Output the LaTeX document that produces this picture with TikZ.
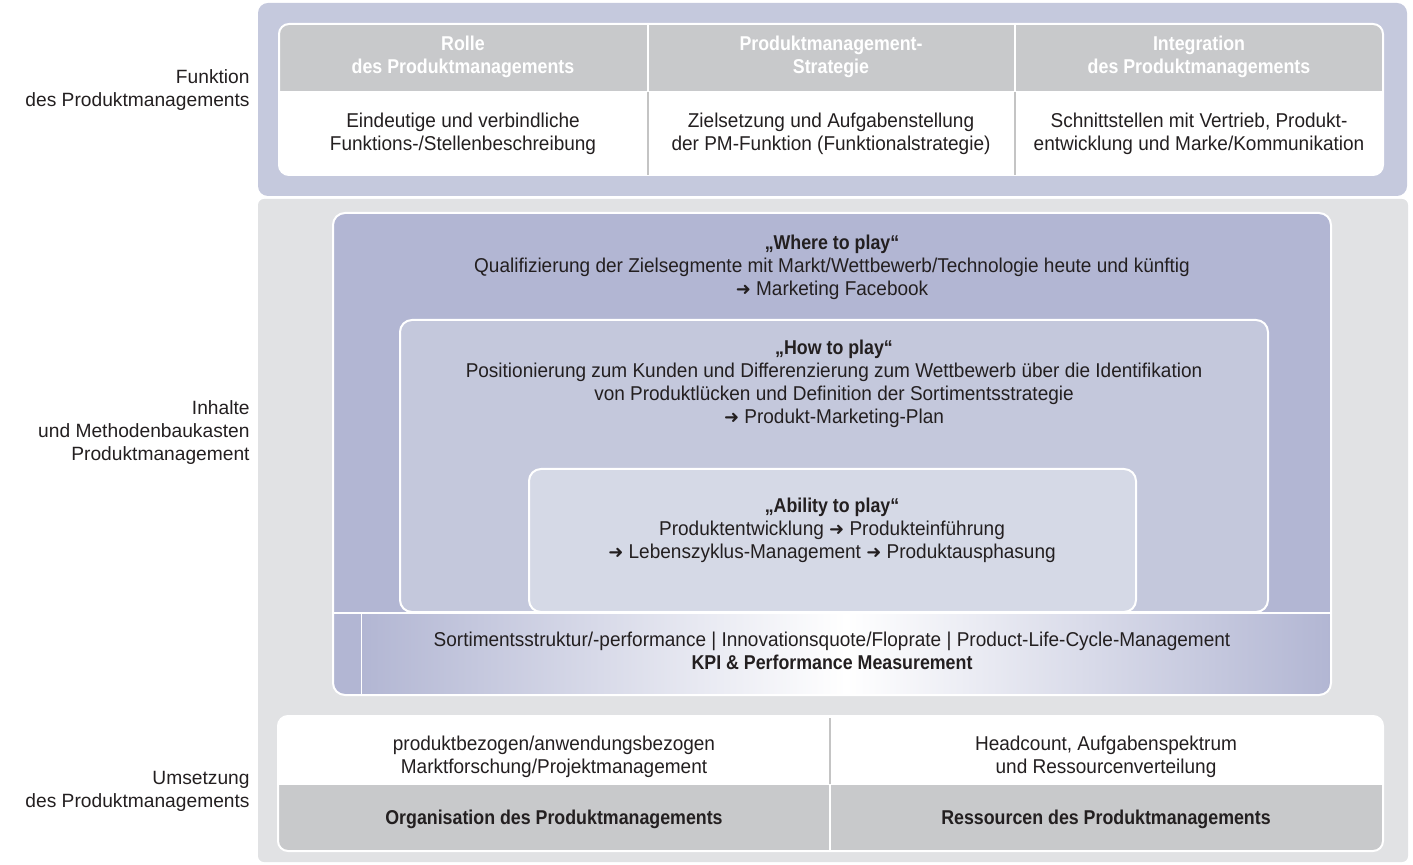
\documentclass[tikz,border=0pt]{standalone}
\usepackage{fontspec}
\setmainfont{Liberation Sans}[FakeStretch=0.95]
\newfontfamily\headfont{Liberation Sans}[FakeStretch=0.89]
\newfontfamily\labelfont{Liberation Sans}
\newfontfamily\arrowfont{DejaVu Sans}
\usepackage{tikz}
\usetikzlibrary{positioning, calc}
\usepackage{xcolor}

\definecolor{panelblue}{HTML}{C5C9DD}
\definecolor{panelgray}{HTML}{E1E2E4}
\definecolor{wherefill}{HTML}{B2B6D3}
\definecolor{howfill}{HTML}{C4C8DC}
\definecolor{abilityfill}{HTML}{D5D9E6}
\definecolor{headgray}{HTML}{C8C9CB}
\definecolor{rulegray}{HTML}{C4C4C4}
\definecolor{textdark}{HTML}{231F20}
\newcommand{\pmarrow}{{\arrowfont\fontsize{9}{11.5}\selectfont ➜}}
\newcommand{\pmbold}[1]{{\headfont\bfseries #1}}

\begin{document}
\begin{tikzpicture}[
    x=0.5pt, y=-0.5pt,
    txt/.style={align=center, font=\fontsize{10}{11.5}\selectfont, text=textdark, inner sep=0pt},
    headtxt/.style={txt, font=\headfont\fontsize{10}{11.5}\selectfont\bfseries, text=white},
    boldtxt/.style={txt, font=\headfont\fontsize{10}{11.5}\selectfont\bfseries},
    sidetxt/.style={align=right, anchor=east, font=\labelfont\fontsize{9.6}{11.5}\selectfont, text=textdark, inner sep=0pt},
    whiteline/.style={draw=white, line width=1pt},
    grayline/.style={draw=rulegray, line width=0.6pt}
]
    \useasboundingbox (0,0) rectangle (1413,865);

    % Funktion panel
    \fill[panelblue, rounded corners=5pt] (258,3) rectangle (1407,196);
    \fill[white, rounded corners=5pt] (279,24) rectangle (1383,175);
    \begin{scope}
        \clip[rounded corners=5pt] (279,24) rectangle (1383,175);
        \fill[headgray] (279,24) rectangle (1383,91);
    \end{scope}
    \draw[whiteline, rounded corners=5pt] (279,24) rectangle (1383,175);
    \draw[whiteline] (648,24) -- (648,91);
    \draw[whiteline] (1015,24) -- (1015,91);
    \draw[grayline] (648,92) -- (648,175);
    \draw[grayline] (1015,92) -- (1015,175);

    \node[headtxt] (rolleHead) at (463,57) {Rolle\\des Produktmanagements};
    \node[headtxt] (strategieHead) at (831,57) {Produktmanagement-\\Strategie};
    \node[headtxt] (integrationHead) at (1199,57) {Integration\\des Produktmanagements};
    \node[txt] (rolleText) at (463,134) {Eindeutige und verbindliche\\Funktions-/Stellenbeschreibung};
    \node[txt] (strategieText) at (831,134) {Zielsetzung und Aufgabenstellung\\der PM-Funktion (Funktionalstrategie)};
    \node[txt] (integrationText) at (1199,134) {Schnittstellen mit Vertrieb, Produkt-\\entwicklung und Marke/Kommunikation};

    % Inhalte panel
    \fill[panelgray, rounded corners=3pt] (258,199) rectangle (1408,862);
    \fill[wherefill, rounded corners=6pt] (333,213) rectangle (1331,695);
    \begin{scope}
        \clip[rounded corners=6pt] (333,213) rectangle (1331,695);
        \shade[left color=wherefill, right color=wherefill, middle color=white] (361,614) rectangle (1331,695);
    \end{scope}
    \draw[whiteline, rounded corners=6pt] (333,213) rectangle (1331,695);
    \draw[whiteline] (333,613) -- (1331,613);
    \draw[draw=white, line width=0.5pt] (361,614) -- (361,695);
    \draw[whiteline, fill=howfill, rounded corners=6pt] (400,320) rectangle (1268,612);
    \draw[whiteline, fill=abilityfill, rounded corners=6pt] (529,469) rectangle (1136,612);

    \node[txt] (where) at (832,267) {\pmbold{„Where to play“}\\Qualifizierung der Zielsegmente mit Markt/Wettbewerb/Technologie heute und künftig\\\pmarrow\ Marketing Facebook};
    \node[txt] (how) at (834,384) {\pmbold{„How to play“}\\Positionierung zum Kunden und Differenzierung zum Wettbewerb über die Identifikation\\von Produktlücken und Definition der Sortimentsstrategie\\\pmarrow\ Produkt-Marketing-Plan};
    \node[txt] (ability) at (832,530) {\pmbold{„Ability to play“}\\Produktentwicklung \pmarrow\ Produkteinführung\\\pmarrow\ Lebenszyklus-Management \pmarrow\ Produktausphasung};
    \node[txt] (kpi) at (832,651) {Sortimentsstruktur/-performance | Innovationsquote/Floprate | Product-Life-Cycle-Management\\\pmbold{KPI \& Performance Measurement}};

    % Umsetzung panel
    \fill[white, rounded corners=5pt] (278,716) rectangle (1383,851);
    \begin{scope}
        \clip[rounded corners=5pt] (278,716) rectangle (1383,851);
        \fill[headgray] (278,785) rectangle (1383,851);
    \end{scope}
    \draw[whiteline, rounded corners=5pt] (278,716) rectangle (1383,851);
    \draw[grayline] (830,718) -- (830,784);
    \draw[whiteline] (830,785) -- (830,851);

    \node[txt] (orgText) at (554,757) {produktbezogen/anwendungsbezogen\\Marktforschung/Projektmanagement};
    \node[txt] (resText) at (1106,757) {Headcount, Aufgabenspektrum\\und Ressourcenverteilung};
    \node[boldtxt] (orgHead) at (554,819) {Organisation des Produktmanagements};
    \node[boldtxt] (resHead) at (1106,819) {Ressourcen des Produktmanagements};

    % side labels
    \node[sidetxt] (funktionLabel) at (250,90) {Funktion\\des Produktmanagements};
    \node[sidetxt] (inhalteLabel) at (250,433) {Inhalte\\und Methodenbaukasten\\Produktmanagement};
    \node[sidetxt] (umsetzungLabel) at (250,791) {Umsetzung\\des Produktmanagements};
\end{tikzpicture}
\end{document}
